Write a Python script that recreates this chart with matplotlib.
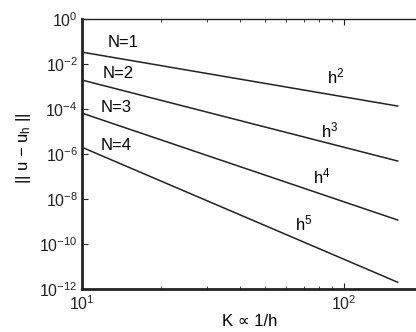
# Convergence of the error norm for polynomial orders N=1..4
import numpy as np
from matplotlib import pyplot as plt
from matplotlib.ticker import LogLocator, NullLocator

plt.rcParams['font.family'] = ['Liberation Sans', 'DejaVu Sans']
plt.rcParams['mathtext.fontset'] = 'custom'
plt.rcParams['mathtext.rm'] = 'Liberation Sans'
plt.rcParams['mathtext.default'] = 'regular'

K = [10, 160]  # number of elements, ends of each line
err = {  # error values
    'N=1': [3.4e-2, 1.36e-4],
    'N=2': [1.95e-3, 4.9e-7],
    'N=3': [6.6e-5, 1.17e-9],
    'N=4': [2.0e-6, 2.0e-12],
}
orders = ['h$^2$', 'h$^3$', 'h$^4$', 'h$^5$']

fig = plt.figure(figsize=(4.16, 3.32), dpi=100)
ax = fig.add_axes([0.197, 0.1295, 0.82, 0.813])

for name in err:
    ax.loglog(K, err[name], color='#222222', lw=1.1)

ax.set_xlim(10, 200)
ax.set_ylim(1e-12, 1e0)
ax.set_yticks([10.0**p for p in range(-12, 1, 2)])
ax.yaxis.set_minor_locator(NullLocator())
ax.xaxis.set_minor_locator(LogLocator(subs=np.arange(2, 10)))
ax.tick_params(which='both', direction='in', top=True, right=False, labelsize=11.5, colors='#222222')
ax.tick_params(which='major', length=4, width=0.8)
ax.tick_params(which='minor', length=2.5, width=0.6)
ax.tick_params(axis='x', pad=4)
ax.tick_params(axis='y', pad=3)

ax.spines['left'].set_linewidth(2.0)
ax.spines['bottom'].set_linewidth(2.0)
ax.spines['top'].set_linewidth(1.0)
ax.spines['right'].set_visible(False)
for s in ax.spines.values():
    s.set_color('#222222')

# N labels, left side
ax.text(14.3, 10**-1.05, 'N=1', fontsize=12, ha='center', va='center')
ax.text(13.8, 10**-2.4, 'N=2', fontsize=12, ha='center', va='center')
ax.text(13.5, 10**-3.95, 'N=3', fontsize=12, ha='center', va='center')
ax.text(13.5, 10**-5.6, 'N=4', fontsize=12, ha='center', va='center')

# order labels, right side
ax.text(93, 10**-2.55, orders[0], fontsize=12, ha='center', va='center')
ax.text(88, 10**-4.95, orders[1], fontsize=12, ha='center', va='center')
ax.text(82, 10**-7.0, orders[2], fontsize=12, ha='center', va='center')
ax.text(70, 10**-9.1, orders[3], fontsize=12, ha='center', va='center')

fig.text(0.6, 0.01, 'K ∝ 1/h', fontsize=12, ha='center', va='bottom')
fig.text(0.057, 0.555, '|| u − u$_h$ ||', fontsize=12, ha='center', va='center', rotation=90)

plt.savefig('out.png', dpi=100)
